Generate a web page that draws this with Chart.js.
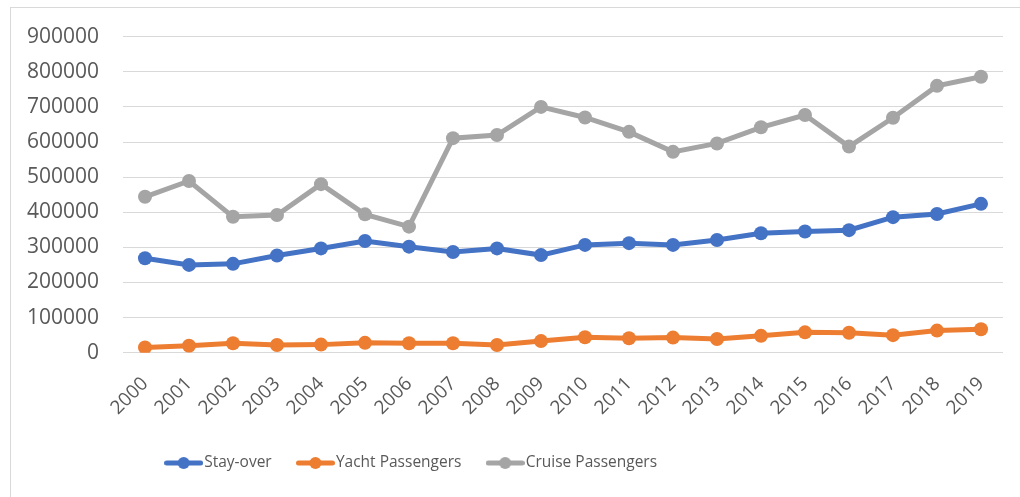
<!DOCTYPE html>
<html>
<head>
<meta charset="utf-8">
<script src="https://cdn.jsdelivr.net/npm/chart.js@4.4.1/dist/chart.umd.min.js"></script>
<style>
  html, body { margin: 0; padding: 0; background: #fff; overflow: hidden; }
  #frame { position: absolute; left: 10px; top: 7px; width: 1020px; height: 500px; border: 1px solid #d9d9d9; box-sizing: border-box; }
  #c { position: absolute; left: 0; top: 0; }
</style>
</head>
<body>
<div id="frame"></div>
<canvas id="c" width="1020" height="497"></canvas>
<script>
const years = ['2000','2001','2002','2003','2004','2005','2006','2007','2008','2009','2010','2011','2012','2013','2014','2015','2016','2017','2018','2019'];
const stayOver = [269000, 250000, 253000, 277000, 297000, 318000, 302000, 287000, 297000, 278000, 307000, 312000, 307000, 321000, 340000, 345000, 349000, 386000, 395000, 424000];
const yachtPassengers = [15000, 20000, 27000, 22000, 23000, 28000, 27000, 27000, 22000, 33000, 44000, 41000, 43000, 39000, 48000, 58000, 57000, 50000, 63000, 67000];
const cruisePassengers = [444000, 489000, 387000, 392000, 480000, 394000, 359000, 611000, 620000, 700000, 670000, 629000, 572000, 596000, 642000, 677000, 587000, 669000, 760000, 786000];
const seriesNames = ['Stay-over', 'Yacht Passengers', 'Cruise Passengers'];
const seriesColors = ['#4472C4', '#ED7D31', '#A5A5A5'];
const yMin = 0, yMax = 900000, yStep = 100000;

const LEGEND_FS = 15.5;
const LEGEND_PAD = 31;
const MARK_W = 39;

function legendMarker(color) {
  const cv = document.createElement('canvas');
  cv.width = MARK_W; cv.height = 14;
  const g = cv.getContext('2d');
  g.strokeStyle = color; g.lineWidth = 5; g.lineCap = 'round';
  g.beginPath(); g.moveTo(2.5, 7); g.lineTo(MARK_W - 2.5, 7); g.stroke();
  g.fillStyle = color;
  g.beginPath(); g.arc(MARK_W / 2, 7, 6, 0, Math.PI * 2); g.fill();
  return cv;
}
const markers = seriesColors.map(legendMarker);

function makeDataset(i, data) {
  return {
    label: seriesNames[i],
    data: data,
    borderColor: seriesColors[i],
    backgroundColor: seriesColors[i],
    pointBackgroundColor: seriesColors[i],
    pointBorderColor: seriesColors[i],
    borderWidth: 5,
    pointRadius: 7,
    pointBorderWidth: 0,
    tension: 0,
    fill: false
  };
}

const legendShift = {
  id: 'legendShift',
  afterLayout(chart) {
    const lg = chart.legend;
    if (lg) { lg.left = 10; lg.right = 818; }
  }
};

new Chart(document.getElementById('c'), {
  type: 'line',
  data: {
    labels: years,
    datasets: [makeDataset(0, stayOver), makeDataset(1, yachtPassengers), makeDataset(2, cruisePassengers)]
  },
  plugins: [legendShift],
  options: {
    responsive: false,
    animation: false,
    devicePixelRatio: 1,
    layout: { padding: { left: 0, right: 17, top: 36.7, bottom: 16.25 } },
    plugins: {
      tooltip: { enabled: false },
      legend: {
        position: 'bottom',
        align: 'center',
        labels: {
          font: { family: "'Open Sans', sans-serif", size: LEGEND_FS },
          color: '#595959',
          padding: LEGEND_PAD,
          usePointStyle: true,
          pointStyleWidth: MARK_W - LEGEND_FS + 2,
          generateLabels(chart) {
            return chart.data.datasets.map((ds, i) => ({
              text: ds.label,
              fillStyle: seriesColors[i],
              strokeStyle: seriesColors[i],
              lineWidth: 0,
              pointStyle: markers[i],
              hidden: false,
              datasetIndex: i,
              fontColor: '#595959'
            }));
          }
        }
      }
    },
    scales: {
      x: {
        offset: true,
        grid: { display: false, drawTicks: false },
        border: { display: false },
        ticks: {
          font: { family: "'Open Sans', sans-serif", size: 19 },
          color: '#595959',
          minRotation: 45,
          maxRotation: 45,
          padding: 20,
          autoSkip: false
        },
        afterFit(s) { s.height = 71.55; }
      },
      y: {
        min: yMin,
        max: yMax,
        grid: { color: '#D9D9D9', lineWidth: 1, drawTicks: false },
        border: { display: false },
        ticks: {
          stepSize: yStep,
          font: { family: "'Open Sans', sans-serif", size: 21 },
          color: '#595959',
          padding: 24,
          callback: v => String(v)
        },
        afterFit(s) { s.width = 123; }
      }
    }
  }
});
</script>
</body>
</html>
